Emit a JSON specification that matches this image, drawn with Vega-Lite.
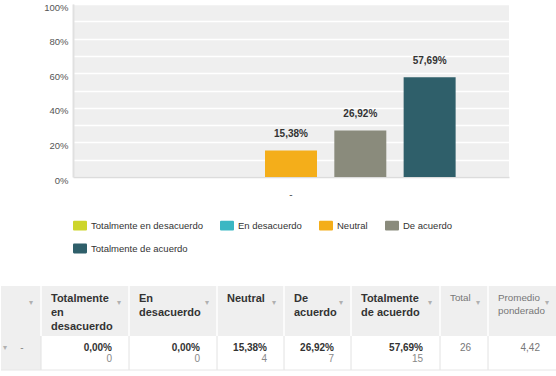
{
  "$schema": "https://vega.github.io/schema/vega-lite/v6.json",
  "autosize": {"type": "pad"},
  "padding": {"left": 0, "top": 2, "right": 0, "bottom": 0},
  "background": "white",
  "bounds": "flush",
  "spacing": 109,
  "config": {
    "font": "Liberation Sans",
    "locale": {"number": {"decimal": ",", "thousands": ".", "grouping": [3], "currency": ["", " €"]}},
    "view": {"stroke": null}
  },
  "datasets": {
    "respuestas": [
      {"pregunta": "-", "respuesta": "Totalmente en desacuerdo", "col": 1, "fin": 2, "pct": 0, "n": 0},
      {"pregunta": "-", "respuesta": "En desacuerdo", "col": 2, "fin": 3, "pct": 0, "n": 0},
      {"pregunta": "-", "respuesta": "Neutral", "col": 3, "fin": 4, "pct": 0.1538, "n": 4},
      {"pregunta": "-", "respuesta": "De acuerdo", "col": 4, "fin": 5, "pct": 0.2692, "n": 7},
      {"pregunta": "-", "respuesta": "Totalmente de acuerdo", "col": 5, "fin": 6, "pct": 0.5769, "n": 15}
    ],
    "columnas": [
      {"col": 0, "fin": 1, "titulo": ""},
      {"col": 1, "fin": 2, "titulo": "Totalmente\nen\ndesacuerdo"},
      {"col": 2, "fin": 3, "titulo": "En\ndesacuerdo"},
      {"col": 3, "fin": 4, "titulo": "Neutral"},
      {"col": 4, "fin": 5, "titulo": "De\nacuerdo"},
      {"col": 5, "fin": 6, "titulo": "Totalmente\nde acuerdo"},
      {"col": 6, "fin": 7, "titulo": "Total"},
      {"col": 7, "fin": 8, "titulo": "Promedio\nponderado"}
    ],
    "resumen": [
      {"col": 6, "fin": 7, "valor": 26},
      {"col": 7, "fin": 8, "valor": 4.42}
    ],
    "filas": [
      {"col": 0, "fin": 1, "fila": "-"}
    ]
  },
  "vconcat": [
    {
      "width": 436,
      "height": 173,
      "view": {"fill": "#efefef", "stroke": null},
      "data": {"name": "respuestas"},
      "encoding": {
        "x": {
          "field": "pregunta", "type": "nominal",
          "scale": {"paddingOuter": 0.129, "paddingInner": 0},
          "axis": {"title": null, "labelAngle": 0, "ticks": false, "tickSize": 0, "labelPadding": 12,
                   "labelFontSize": 10, "labelColor": "#555", "domainColor": "#dcdcdc", "domainWidth": 1.5}
        },
        "xOffset": {
          "field": "respuesta", "type": "nominal",
          "sort": ["Totalmente en desacuerdo", "En desacuerdo", "Neutral", "De acuerdo", "Totalmente de acuerdo"],
          "scale": {"paddingInner": 0.25, "paddingOuter": 0.125}
        },
        "y": {
          "field": "pct", "type": "quantitative",
          "scale": {"domain": [0, 1], "nice": false},
          "axis": {
            "title": null,
            "values": [0, 0.1, 0.2, 0.3, 0.4, 0.5, 0.6, 0.7, 0.8, 0.9, 1],
            "format": ".0%",
            "labelExpr": "round(datum.value * 10) % 2 === 0 ? datum.label : ''",
            "ticks": false, "tickSize": 0, "labelPadding": 5, "labelOffset": 3,
            "labelFontSize": 9.5, "labelColor": "#555",
            "gridColor": "white", "gridWidth": 1.5,
            "domainColor": "#e0e0e0", "domainWidth": 2
          }
        }
      },
      "layer": [
        {
          "mark": {"type": "bar"},
          "encoding": {
            "color": {
              "field": "respuesta", "type": "nominal",
              "sort": ["Totalmente en desacuerdo", "En desacuerdo", "Neutral", "De acuerdo", "Totalmente de acuerdo"],
              "scale": {
                "domain": ["Totalmente en desacuerdo", "En desacuerdo", "Neutral", "De acuerdo", "Totalmente de acuerdo"],
                "range": ["#cdd52a", "#3bb7c3", "#f4ae1a", "#8a8b7c", "#2f5f6a"]
              },
              "legend": {
                "orient": "none", "legendX": 0, "legendY": 214.5,
                "direction": "horizontal",
                "title": null, "columns": 4, "padding": 0,
                "columnPadding": 17, "rowPadding": 11,
                "symbolType": "M-0.85,-0.7H0.85Q1,-0.7 1,-0.55V0.55Q1,0.7 0.85,0.7H-0.85Q-1,0.7 -1,0.55V-0.55Q-1,-0.7 -0.85,-0.7Z",
                "symbolSize": 196, "symbolStrokeWidth": 0, "symbolOpacity": 1,
                "labelFontSize": 9.5, "labelColor": "#333", "labelOffset": 4, "labelLimit": 300
              }
            }
          }
        },
        {
          "transform": [{"filter": "datum.pct > 0"}],
          "mark": {"type": "text", "baseline": "middle", "dy": -16, "fontSize": 10, "fontWeight": "bold", "color": "#333"},
          "encoding": {"text": {"field": "pct", "type": "quantitative", "format": ".2%"}}
        }
      ]
    },
    {
      "width": 436,
      "height": 84,
      "layer": [
        {
          "data": {"name": "columnas"},
          "mark": {"type": "rect", "color": "#efefef"},
          "encoding": {
            "x": {"field": "col", "type": "quantitative", "axis": null,
                  "scale": {"domain": [0, 1, 2, 3, 4, 5, 6, 7, 8], "range": [-72, -32, 56, 144, 211, 278, 367, 415, 484], "nice": false, "zero": false}},
            "x2": {"field": "fin"},
            "y": {"datum": 0, "type": "quantitative", "axis": null,
                  "scale": {"domain": [0, 1, 2], "range": [0, 50, 84], "nice": false, "zero": false}},
            "y2": {"datum": 1}
          }
        },
        {
          "data": {"name": "filas"},
          "mark": {"type": "rect", "color": "#efefef"},
          "encoding": {
            "x": {"field": "col", "type": "quantitative"},
            "x2": {"field": "fin"},
            "y": {"datum": 1, "type": "quantitative"},
            "y2": {"datum": 2}
          }
        },
        {
          "data": {"name": "columnas"},
          "transform": [{"filter": "datum.col > 0"}],
          "mark": {"type": "rule", "color": "white", "strokeWidth": 1.5},
          "encoding": {
            "x": {"field": "col", "type": "quantitative"},
            "y": {"datum": 0, "type": "quantitative"},
            "y2": {"datum": 1}
          }
        },
        {
          "data": {"name": "columnas"},
          "transform": [{"filter": "datum.col > 0"}],
          "mark": {"type": "rule", "color": "#e2e2e2", "strokeWidth": 1},
          "encoding": {
            "x": {"field": "col", "type": "quantitative"},
            "y": {"datum": 1, "type": "quantitative"},
            "y2": {"datum": 2}
          }
        },
        {
          "data": {"name": "columnas"},
          "mark": {"type": "rule", "color": "#e6e6e6", "strokeWidth": 1},
          "encoding": {
            "x": {"field": "col", "type": "quantitative"},
            "x2": {"field": "fin"},
            "y": {"datum": 2, "type": "quantitative"}
          }
        },
        {
          "data": {"name": "columnas"},
          "transform": [{"filter": "datum.col >= 1 && datum.col <= 5"}],
          "mark": {"type": "text", "align": "left", "baseline": "top", "dx": 10, "dy": 7,
                   "lineBreak": "\n", "lineHeight": 14, "fontSize": 11, "fontWeight": "bold", "color": "#333"},
          "encoding": {
            "x": {"field": "col", "type": "quantitative"},
            "y": {"datum": 0, "type": "quantitative"},
            "text": {"field": "titulo"}
          }
        },
        {
          "data": {"name": "columnas"},
          "transform": [{"filter": "datum.col >= 6"}],
          "mark": {"type": "text", "align": "left", "baseline": "top", "dx": 10, "dy": 7,
                   "lineBreak": "\n", "lineHeight": 13, "fontSize": 9.8, "color": "#777"},
          "encoding": {
            "x": {"field": "col", "type": "quantitative"},
            "y": {"datum": 0, "type": "quantitative"},
            "text": {"field": "titulo"}
          }
        },
        {
          "data": {"name": "columnas"},
          "mark": {"type": "text", "align": "center", "baseline": "middle", "dx": -10, "dy": 17,
                   "fontSize": 8, "color": "#b0b0b0", "text": "▾"},
          "encoding": {
            "x": {"field": "fin", "type": "quantitative"},
            "y": {"datum": 0, "type": "quantitative"}
          }
        },
        {
          "data": {"name": "respuestas"},
          "mark": {"type": "text", "align": "right", "baseline": "middle", "dx": -17, "dy": 12,
                   "fontSize": 10, "fontWeight": "bold", "color": "#333"},
          "encoding": {
            "x": {"field": "fin", "type": "quantitative"},
            "y": {"datum": 1, "type": "quantitative"},
            "text": {"field": "pct", "type": "quantitative", "format": ".2%"}
          }
        },
        {
          "data": {"name": "respuestas"},
          "mark": {"type": "text", "align": "right", "baseline": "middle", "dx": -17, "dy": 23,
                   "fontSize": 10, "color": "#888"},
          "encoding": {
            "x": {"field": "fin", "type": "quantitative"},
            "y": {"datum": 1, "type": "quantitative"},
            "text": {"field": "n", "type": "quantitative", "format": "d"}
          }
        },
        {
          "data": {"name": "resumen"},
          "mark": {"type": "text", "align": "right", "baseline": "middle", "dx": -17, "dy": 12,
                   "fontSize": 10, "color": "#777"},
          "encoding": {
            "x": {"field": "fin", "type": "quantitative"},
            "y": {"datum": 1, "type": "quantitative"},
            "text": {"field": "valor", "type": "quantitative", "format": "~g"}
          }
        },
        {
          "data": {"name": "filas"},
          "mark": {"type": "text", "align": "center", "baseline": "middle", "dx": 21, "dy": 12,
                   "fontSize": 10, "color": "#888"},
          "encoding": {
            "x": {"field": "col", "type": "quantitative"},
            "y": {"datum": 1, "type": "quantitative"},
            "text": {"field": "fila"}
          }
        },
        {
          "data": {"name": "filas"},
          "mark": {"type": "text", "align": "center", "baseline": "middle", "dx": 4, "dy": 12,
                   "fontSize": 8, "color": "#b0b0b0", "text": "▾"},
          "encoding": {
            "x": {"field": "col", "type": "quantitative"},
            "y": {"datum": 1, "type": "quantitative"}
          }
        }
      ]
    }
  ]
}
